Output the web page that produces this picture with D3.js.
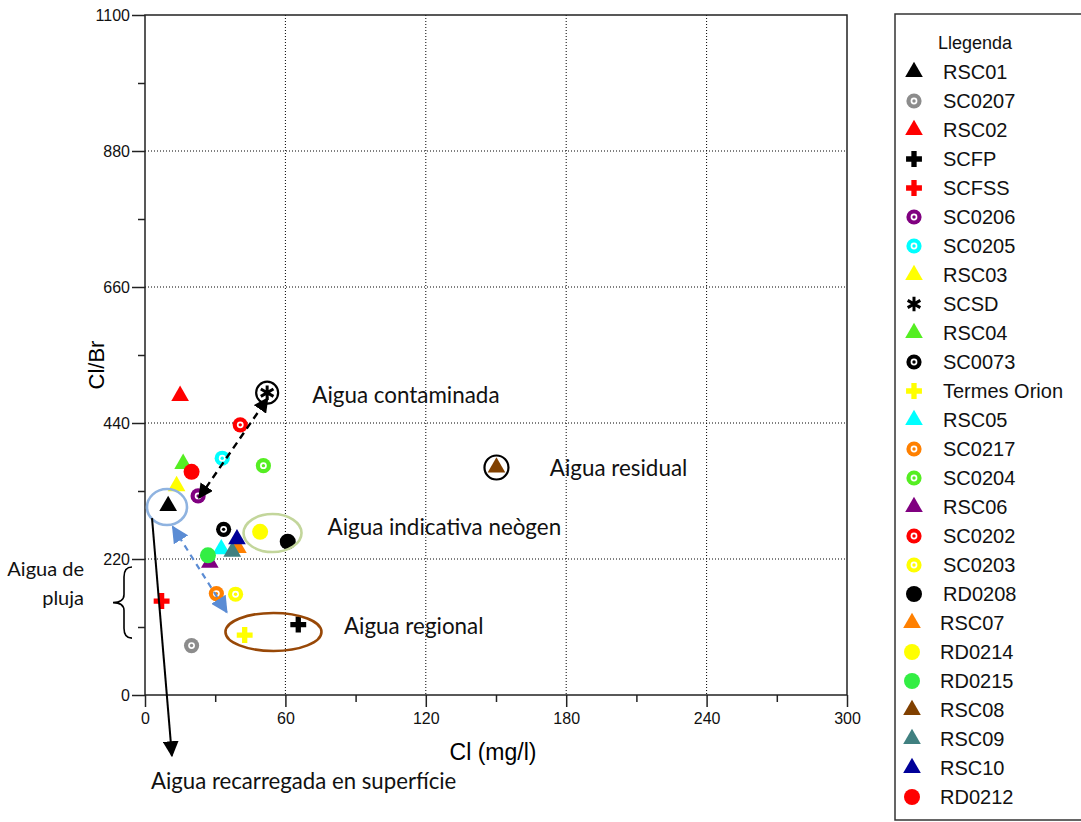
<!DOCTYPE html>
<html>
<head>
<meta charset="utf-8">
<script src="https://cdn.jsdelivr.net/npm/d3@7"></script>
<style>
  body { margin: 0; background: #fff; }
  svg { display: block; }
</style>
</head>
<body>
<script>
// sample names, in legend order
var samples = ["RSC01", "SC0207", "RSC02", "SCFP", "SCFSS", "SC0206", "SC0205", "RSC03", "SCSD",
    "RSC04", "SC0073", "Termes Orion", "RSC05", "SC0217", "SC0204", "RSC06", "SC0202", "SC0203",
    "RD0208", "RSC07", "RD0214", "RD0215", "RSC08", "RSC09", "RSC10", "RD0212"];
// Cl (mg/l)
var clValues = [9.9, 19.9, 15, 65.5, 7.1, 22.7, 33, 13.5, 52.2,
    16.3, 33.6, 42.6, 32.6, 30.5, 50.6, 27.7, 40.7, 38.7,
    61, 39.7, 49.2, 26.9, 150.2, 37.3, 39.3, 19.9];
// Cl/Br
var ratioValues = [306, 80, 484, 114, 152, 322, 383, 338, 489,
    374, 268, 97, 236, 164, 371, 214, 437, 163,
    248, 238, 264, 226, 368, 232, 252, 361];
// marker kind and colour for each sample
var shapes = ["tri", "ring", "tri", "plus", "plus", "ring", "ring", "tri", "star",
    "tri", "ring", "plus", "tri", "ring", "ring", "tri", "ring", "ring",
    "dot", "tri", "dot", "dot", "tri", "tri", "tri", "dot"];
var colors = ["#000000", "#8c8c8c", "#ff0000", "#000000", "#ff0000", "#800080", "#00ffff", "#ffff00", "#000000",
    "#55ee22", "#000000", "#ffff00", "#00ffff", "#ff8000", "#55ee22", "#800080", "#ff0000", "#ffff00",
    "#000000", "#ff8000", "#ffff00", "#33ee44", "#804000", "#408080", "#000099", "#ff0000"];

var xMajor = [0, 60, 120, 180, 240, 300];
var xMinor = [30, 90, 150, 210, 270];
var yMajor = [0, 220, 440, 660, 880, 1100];
var yMinor = [110, 330, 550, 770, 990];

var svg = d3.select("body").append("svg").attr("width", 1081).attr("height", 822);

var x = d3.scaleLinear().domain([0, 300]).range([145, 847]);
var y = d3.scaleLinear().domain([0, 1100]).range([695, 15]);

var tickFont = "Liberation Sans, Arial, sans-serif";
var noteFont = "Lato, Carlito, Calibri, sans-serif";

// dotted grid
svg.append("g").selectAll("line.gx")
    .data(xMajor.slice(1, -1))
    .enter().append("line")
    .attr("x1", function (d) { return x(d); })
    .attr("x2", function (d) { return x(d); })
    .attr("y1", y(1100)).attr("y2", y(0))
    .attr("stroke", "#000").attr("stroke-width", 1).attr("stroke-dasharray", "1,2");
svg.append("g").selectAll("line.gy")
    .data(yMajor.slice(1, -1))
    .enter().append("line")
    .attr("y1", function (d) { return y(d); })
    .attr("y2", function (d) { return y(d); })
    .attr("x1", x(0)).attr("x2", x(300))
    .attr("stroke", "#000").attr("stroke-width", 1).attr("stroke-dasharray", "1,2");

// frame
svg.append("rect")
    .attr("x", x(0)).attr("y", y(1100))
    .attr("width", x(300) - x(0)).attr("height", y(0) - y(1100))
    .attr("fill", "none").attr("stroke", "#222").attr("stroke-width", 1.5);

// axes
function styleAxis(g) {
    g.select(".domain").remove();
    g.selectAll("line").attr("stroke", "#222").attr("stroke-width", 1.5);
    g.selectAll("text").attr("font-family", tickFont).attr("font-size", 16).attr("fill", "#111");
}
svg.append("g").attr("transform", "translate(0," + y(0) + ")")
    .call(d3.axisBottom(x).tickValues(xMajor).tickSize(12).tickPadding(6).tickFormat(d3.format("d")))
    .call(styleAxis);
svg.append("g").attr("transform", "translate(0," + y(0) + ")")
    .call(d3.axisBottom(x).tickValues(xMinor).tickSize(7).tickFormat(""))
    .call(styleAxis);
svg.append("g").attr("transform", "translate(" + x(0) + ",0)")
    .call(d3.axisLeft(y).tickValues(yMajor).tickSize(13).tickPadding(2).tickFormat(d3.format("d")))
    .call(styleAxis);
svg.append("g").attr("transform", "translate(" + x(0) + ",0)")
    .call(d3.axisLeft(y).tickValues(yMinor).tickSize(7).tickFormat(""))
    .call(styleAxis);

svg.append("text")
    .attr("x", 493).attr("y", 760)
    .attr("text-anchor", "middle")
    .attr("font-family", tickFont).attr("font-size", 23)
    .text("Cl (mg/l)");
svg.append("text")
    .attr("transform", "translate(104,365) rotate(-90)")
    .attr("text-anchor", "middle")
    .attr("font-family", tickFont).attr("font-size", 22)
    .text("Cl/Br");

// marker drawing
function drawMarker(g, shape, color) {
    if (shape === "tri") {
        g.append("path").attr("d", d3.symbol(d3.symbolTriangle, 135)()).attr("fill", color);
    } else if (shape === "ring") {
        g.append("circle").attr("r", 7.6).attr("fill", color);
        g.append("circle").attr("r", 3.4).attr("fill", "#fff");
        g.append("circle").attr("r", 1.7).attr("fill", color);
    } else if (shape === "dot") {
        g.append("circle").attr("r", 8).attr("fill", color);
    } else if (shape === "plus") {
        g.append("path").attr("d", d3.symbol(d3.symbolCross, 140)()).attr("fill", color);
    } else if (shape === "star") {
        g.append("path").attr("d", d3.symbol(d3.symbolAsterisk, 150)())
            .attr("fill", "none").attr("stroke", color).attr("stroke-width", 3);
    }
}

var points = samples.map(function (name, i) {
    return { name: name, cl: clValues[i], ratio: ratioValues[i], shape: shapes[i], color: colors[i] };
});

svg.append("g").selectAll("g.pt")
    .data(points)
    .enter().append("g")
    .attr("class", "pt")
    .attr("transform", function (d) { return "translate(" + x(d.cl) + "," + y(d.ratio) + ")"; })
    .each(function (d) { drawMarker(d3.select(this), d.shape, d.color); });

// annotations
var defs = svg.append("defs");
function arrowHead(id, color, size) {
    defs.append("marker")
        .attr("id", id)
        .attr("viewBox", "0 0 10 10")
        .attr("refX", 9).attr("refY", 5)
        .attr("markerUnits", "userSpaceOnUse")
        .attr("markerWidth", size).attr("markerHeight", size)
        .attr("orient", "auto-start-reverse")
        .append("path").attr("d", "M0,0L10,5L0,10z").attr("fill", color);
}
arrowHead("headBlack", "#000", 15);
arrowHead("headBlue", "#5b8cd4", 17);
arrowHead("headSolid", "#000", 16);

var scsd = points[8], rsc08 = points[22];

// circles around single samples
svg.append("circle").attr("cx", x(scsd.cl)).attr("cy", y(scsd.ratio)).attr("r", 11)
    .attr("fill", "none").attr("stroke", "#000").attr("stroke-width", 2.2);
svg.append("circle").attr("cx", x(rsc08.cl)).attr("cy", y(rsc08.ratio)).attr("r", 12)
    .attr("fill", "none").attr("stroke", "#000").attr("stroke-width", 2.2);

// ellipses [cl, ratio]
var ellipseCentres = [[9.4, 304], [54.5, 262], [54.9, 102]];
var ellipseStyle = [
    { rx: 20, ry: 18, color: "#8fb3e0" },
    { rx: 29, ry: 19, color: "#c3d69b" },
    { rx: 48, ry: 19, color: "#984807" }
];
svg.append("g").selectAll("ellipse")
    .data(ellipseCentres)
    .enter().append("ellipse")
    .attr("cx", function (d) { return x(d[0]); })
    .attr("cy", function (d) { return y(d[1]); })
    .attr("rx", function (d, i) { return ellipseStyle[i].rx; })
    .attr("ry", function (d, i) { return ellipseStyle[i].ry; })
    .attr("fill", "none")
    .attr("stroke", function (d, i) { return ellipseStyle[i].color; })
    .attr("stroke-width", 2.6);

// arrows [from, to] in data units
var contamArrow = [[23.1, 319], [52.4, 480]];
var rechargeArrow = [[11.9, 272], [34.9, 134]];
var surfaceArrow = [[3, 286], [11.5, -98]];

svg.append("line")
    .attr("x1", x(contamArrow[0][0])).attr("y1", y(contamArrow[0][1]))
    .attr("x2", x(contamArrow[1][0])).attr("y2", y(contamArrow[1][1]))
    .attr("stroke", "#000").attr("stroke-width", 2.4).attr("stroke-dasharray", "7,5")
    .attr("marker-start", "url(#headBlack)").attr("marker-end", "url(#headBlack)");
svg.append("line")
    .attr("x1", x(rechargeArrow[0][0])).attr("y1", y(rechargeArrow[0][1]))
    .attr("x2", x(rechargeArrow[1][0])).attr("y2", y(rechargeArrow[1][1]))
    .attr("stroke", "#5b8cd4").attr("stroke-width", 2.2).attr("stroke-dasharray", "6,5")
    .attr("marker-start", "url(#headBlue)").attr("marker-end", "url(#headBlue)");
svg.append("line")
    .attr("x1", x(surfaceArrow[0][0])).attr("y1", y(surfaceArrow[0][1]))
    .attr("x2", x(surfaceArrow[1][0])).attr("y2", y(surfaceArrow[1][1]))
    .attr("stroke", "#000").attr("stroke-width", 2)
    .attr("marker-end", "url(#headSolid)");

// brace for rain water
var braceTop = y(207), braceBot = y(92), braceX = 128, braceTip = 113;
var braceMid = (braceTop + braceBot) / 2;
svg.append("path")
    .attr("d", "M" + (braceX + 4) + "," + braceTop +
        "Q" + (braceX - 4) + "," + braceTop + " " + (braceX - 4) + "," + (braceTop + 10) +
        "L" + (braceX - 4) + "," + (braceMid - 8) +
        "Q" + (braceX - 4) + "," + braceMid + " " + braceTip + "," + braceMid +
        "Q" + (braceX - 4) + "," + braceMid + " " + (braceX - 4) + "," + (braceMid + 8) +
        "L" + (braceX - 4) + "," + (braceBot - 10) +
        "Q" + (braceX - 4) + "," + braceBot + " " + (braceX + 4) + "," + braceBot)
    .attr("fill", "none").attr("stroke", "#000").attr("stroke-width", 1.6);

// notes
var noteTexts = ["Aigua contaminada", "Aigua residual", "Aigua indicativa neògen", "Aigua regional"];
var notePos = [[71.5, 485], [173, 367], [78, 271], [85, 111]];
svg.append("g").selectAll("text")
    .data(noteTexts)
    .enter().append("text")
    .attr("x", function (d, i) { return x(notePos[i][0]); })
    .attr("y", function (d, i) { return y(notePos[i][1]); })
    .attr("dy", "0.35em")
    .attr("font-family", noteFont).attr("font-size", 22.4).attr("fill", "#111")
    .text(function (d) { return d; });

svg.append("text").attr("x", 151).attr("y", 781).attr("dy", "0.35em")
    .attr("font-family", noteFont).attr("font-size", 22.2).attr("fill", "#111")
    .text("Aigua recarregada en superfície");
svg.append("text").attr("x", 84).attr("y", 569).attr("dy", "0.35em").attr("text-anchor", "end")
    .attr("font-family", noteFont).attr("font-size", 20).attr("fill", "#111")
    .text("Aigua de");
svg.append("text").attr("x", 84).attr("y", 598).attr("dy", "0.35em").attr("text-anchor", "end")
    .attr("font-family", noteFont).attr("font-size", 20).attr("fill", "#111")
    .text("pluja");

// legend
var legend = svg.append("g");
legend.append("rect")
    .attr("x", 895).attr("y", 14).attr("width", 200).attr("height", 806)
    .attr("fill", "#fff").attr("stroke", "#333").attr("stroke-width", 1.5);
legend.append("text")
    .attr("x", 938).attr("y", 43).attr("dy", "0.35em")
    .attr("font-family", tickFont).attr("font-size", 18).attr("fill", "#111")
    .text("Llegenda");

var items = legend.selectAll("g.item")
    .data(points)
    .enter().append("g")
    .attr("class", "item")
    .attr("transform", function (d, i) { return "translate(0," + (72 + i * 29) + ")"; });
items.each(function (d, i) {
    var g = d3.select(this).append("g").attr("transform", "translate(" + (i < 19 ? 914 : 912) + ",0)");
    drawMarker(g, d.shape, d.color);
});
items.append("text")
    .attr("x", function (d, i) { return i < 19 ? 943 : 940; })
    .attr("dy", "0.36em")
    .attr("font-family", tickFont).attr("font-size", 20).attr("fill", "#111")
    .text(function (d) { return d.name; });
</script>
</body>
</html>
